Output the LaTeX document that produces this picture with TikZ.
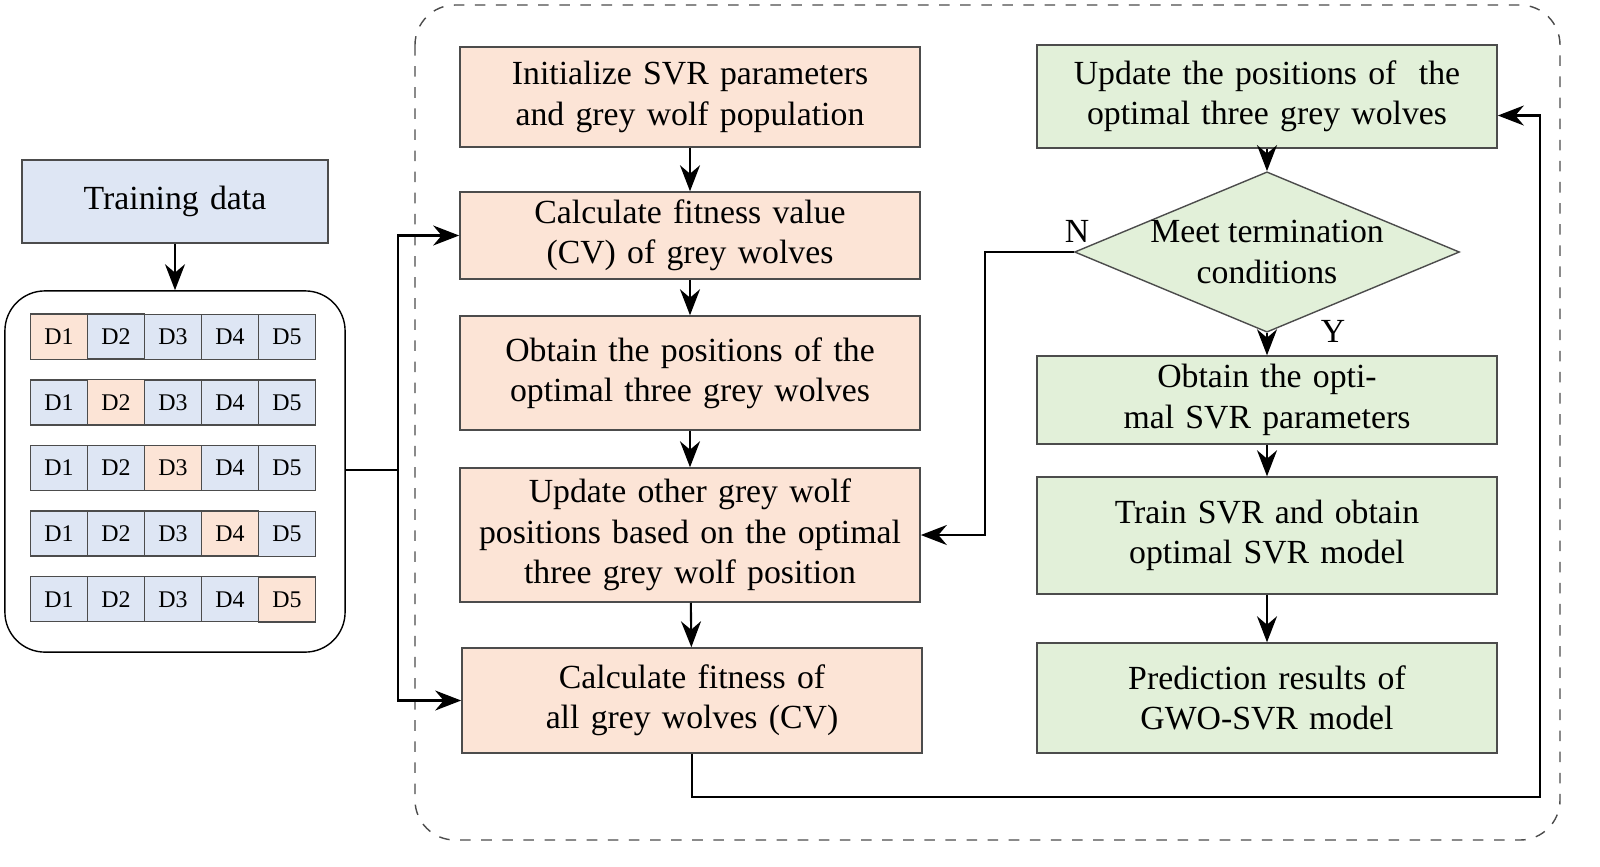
\documentclass[tikz,border=0pt]{standalone}
\usepackage{fontspec}
\setmainfont{Liberation Serif}
\usetikzlibrary{arrows.meta,positioning,matrix,shapes.geometric}
\definecolor{orfill}{HTML}{FCE4D6}
\definecolor{blfill}{HTML}{DEE6F4}
\definecolor{grfill}{HTML}{E2F0D9}

\begin{document}
\begin{tikzpicture}[
    x=0.01cm, y=-0.01cm,
    >={Stealth[length=2.6mm,width=2mm]},
    every node/.style={font=\fontsize{9.6}{11.5}\selectfont},
    stepbox/.style={draw=black!70, fill=orfill, minimum width=4.6cm, text width=4.4cm, align=center, inner sep=1pt},
    gbox/.style={stepbox, fill=grfill},
    line/.style={draw, semithick},
    foldtable/.style={
        matrix of nodes,
        row sep=0.19cm,
        column sep=-\pgflinewidth,
        nodes={draw=black!70, fill=blfill, minimum width=0.57cm, minimum height=0.45cm, inner sep=0, font=\fontsize{6.8}{8}\selectfont}}]
\useasboundingbox (0,0) rectangle (1600,866);

% frames
\draw[dashed, rounded corners=0.4cm, black!70] (415,5) rectangle (1560,840);
\node[draw, rounded corners=0.4cm, minimum width=3.4cm, minimum height=3.61cm] (fold) at (175,471.5) {};

% data
\node[stepbox, fill=blfill, minimum width=3.06cm, text width=2.9cm, minimum height=0.83cm] (train) at (175,201.5) {Training data};
\matrix (grid) [foldtable, ampersand replacement=\&] at (173,468) {
 |[fill=orfill]| D1 \& D2 \& D3 \& D4 \& D5 \\
 D1 \& |[fill=orfill]| D2 \& D3 \& D4 \& D5 \\
 D1 \& D2 \& |[fill=orfill]| D3 \& D4 \& D5 \\
 D1 \& D2 \& D3 \& |[fill=orfill]| D4 \& D5 \\
 D1 \& D2 \& D3 \& D4 \& |[fill=orfill]| D5 \\
};

% left column
\node[stepbox, minimum height=1.0cm] (init) at (690,97) {Initialize SVR parameters and grey wolf population};
\node[stepbox, minimum height=0.87cm] (fit) at (690,235.5) {Calculate fitness value (CV) of grey wolves};
\node[stepbox, minimum height=1.14cm] (obt) at (690,373) {Obtain the positions of the optimal three grey wolves};
\node[stepbox, minimum height=1.34cm] (upd) at (690,535) {Update other grey wolf positions based on the optimal three grey wolf position};
\node[stepbox, minimum height=1.05cm] (fitall) at (692,700.5) {Calculate fitness of all grey wolves (CV)};

% right column
\node[gbox, minimum height=1.03cm] (upbest) at (1267,96.5) {Update the positions of~ the optimal three grey wolves};
\node[draw=black!70, fill=grfill, diamond, aspect=2.4, minimum width=3.41cm, minimum height=1.42cm, inner sep=0, align=center] (meet) at (1267,252) {Meet termination\\conditions};
\node[gbox, minimum height=0.88cm] (param) at (1267,400) {Obtain the optimal SVR parameters};
\node[gbox, minimum height=1.17cm] (svr) at (1267,535.5) {Train SVR and obtain optimal SVR model};
\node[gbox, minimum height=1.1cm] (pred) at (1267,698) {Prediction results of GWO-SVR model};

% connectors
\draw[line,->] (train) -- (fold.north -| train);
\coordinate (split) at (398,470);
\draw[line] (fold.east |- split) -- (split);
\draw[line,->] (split) |- (fit.west);
\draw[line,->] (split) |- (fitall.west);
\draw[line,->] (init) -- (fit);
\draw[line,->] (fit) -- (obt);
\draw[line,->] (obt) -- (upd);
\draw[line,->] (upd) -- (fitall);
\coordinate (low) at (692,797);
\coordinate (far) at (1540,797);
\draw[line,->] (fitall.south) -- (low) -- (far) |- ([yshift=-0.19cm]upbest.east);
\draw[line,->] (upbest) -- (meet);
\draw[line,->] (meet) -- (param);
\draw[line,->] (param) -- (svr);
\draw[line,->] (svr) -- (pred);
\coordinate (nturn) at (985,252);
\draw[line,->] (meet.west) -- (nturn) |- (upd.east);
\node (nlab) at (1077,231) {N};
\node (ylab) at (1333,331) {Y};
\end{tikzpicture}
\end{document}
